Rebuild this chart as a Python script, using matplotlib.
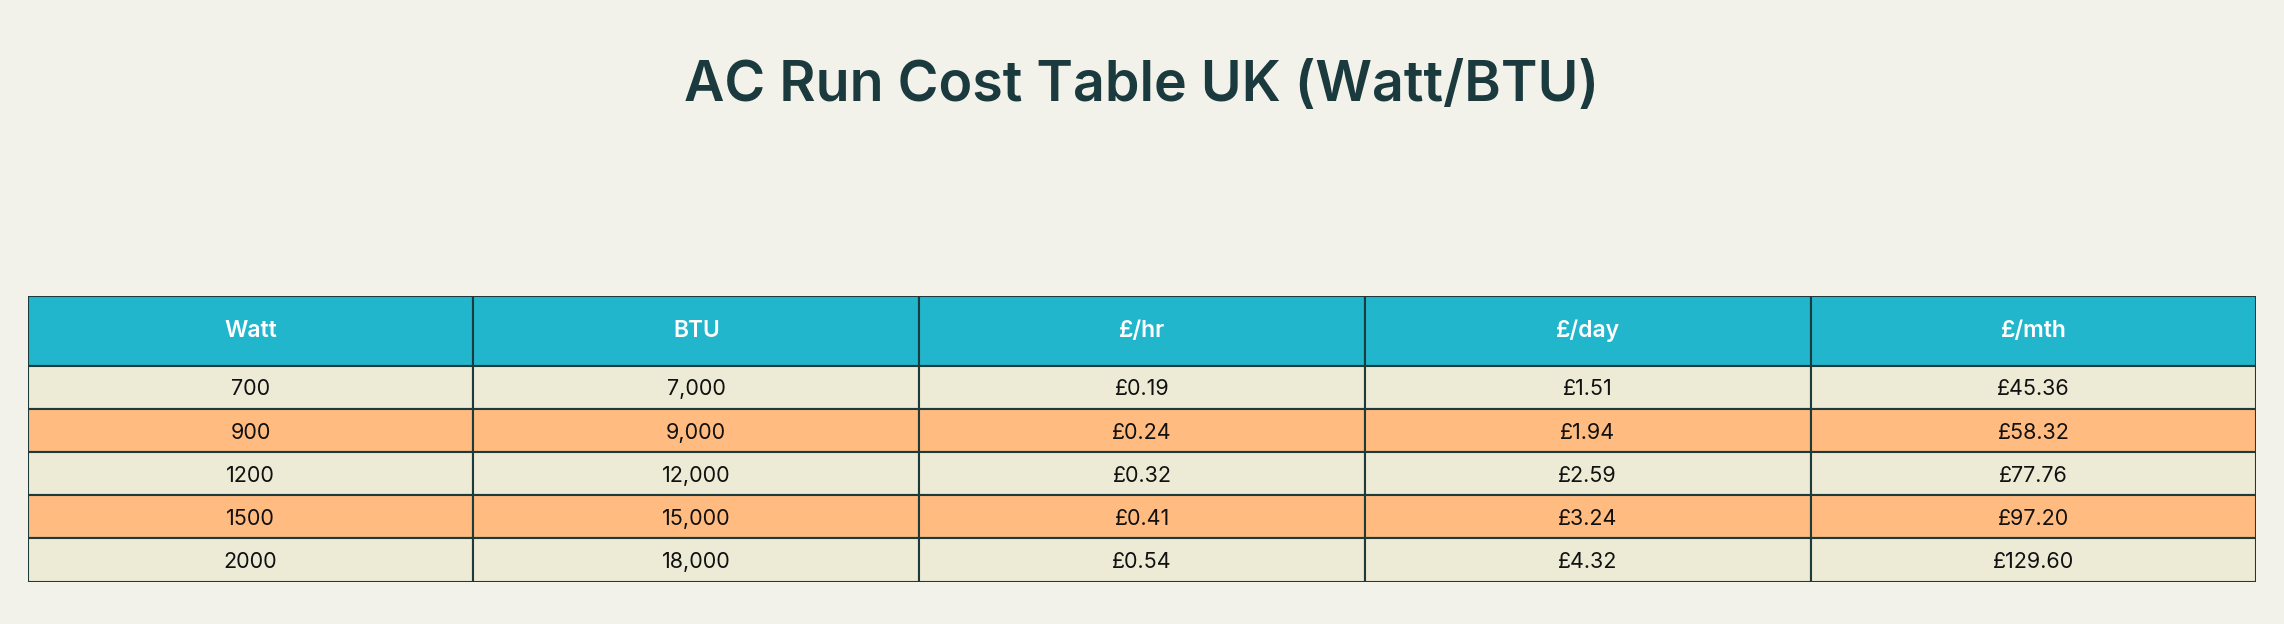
import matplotlib as mpl
mpl.use('Agg')
import matplotlib.pyplot as plt
from matplotlib.patches import Rectangle

columns = ['Watt', 'BTU', '£/hr', '£/day', '£/mth']
watts = ['700', '900', '1200', '1500', '2000']
btu = ['7,000', '9,000', '12,000', '15,000', '18,000']
per_hr = ['£0.19', '£0.24', '£0.32', '£0.41', '£0.54']
per_day = ['£1.51', '£1.94', '£2.59', '£3.24', '£4.32']
per_mth = ['£45.36', '£58.32', '£77.76', '£97.20', '£129.60']
title = 'AC Run Cost Table UK (Watt/BTU)'

bg = '#F2F2EB'
head_col = '#22B6CD'
row_cols = ['#EDEBD6', '#FFBB80']
edge = '#1D3B3B'
title_col = '#1B3A3E'
font = 'Inter'

rows = list(zip(watts, btu, per_hr, per_day, per_mth))

fig = plt.figure(figsize=(22.84, 6.24), dpi=100, facecolor=bg)
fig.text(0.5, 0.862, title, ha='center', va='center', fontsize=40,
         fontweight='semibold', color=title_col, family=font)

# table axes: header counts as 1.62 row heights
head_h = 1.62
ax = fig.add_axes([0.0121, 0.068, 0.9758, 0.458])
ax.set_xlim(0, len(columns))
ax.set_ylim(len(rows) + head_h, 0)
ax.axis('off')

for j, c in enumerate(columns):
    ax.add_patch(Rectangle((j, 0), 1, head_h, facecolor=head_col,
                           edgecolor=edge, lw=1.5))
    ax.text(j + 0.5, head_h / 2, c, ha='center', va='center',
            color='white', fontsize=16.5, family=font, fontweight='semibold')

for i, r in enumerate(rows):
    y = head_h + i
    for j, v in enumerate(r):
        ax.add_patch(Rectangle((j, y), 1, 1, facecolor=row_cols[i % 2],
                               edgecolor=edge, lw=1.5))
        ax.text(j + 0.5, y + 0.55, v, ha='center', va='center',
                color='#111111', fontsize=15.5, family=font)

plt.savefig('out.png', facecolor=bg)
plt.close()
